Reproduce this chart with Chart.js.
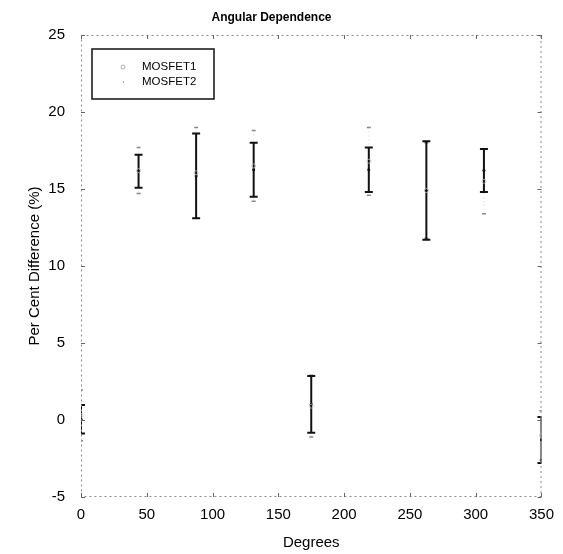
<!DOCTYPE html>
<html>
<head>
<meta charset="utf-8">
<script src="https://cdn.jsdelivr.net/npm/chart.js@4.4.1/dist/chart.umd.min.js"></script>
<style>
  html, body { margin: 0; padding: 0; background: #fff; }
  #wrap { width: 563px; height: 554px; }
</style>
</head>
<body>
<div id="wrap"><canvas id="chart" width="563" height="554"></canvas></div>
<script>
// angles (degrees) where both devices were measured
const angles = [0, 43.75, 87.5, 131.25, 175, 218.75, 262.5, 306.25, 350];

// MOSFET1 -- faint in the scan, only the cap ends really show
const mosfet1Mean = [0.3, 16.2, 16.05, 16.5, 0.9, 16.8, 14.9, 15.5, -1.0];
const mosfet1Err = [1.65, 1.5, 2.95, 2.3, 2.0, 2.2, 3.1, 2.1, 1.6];

// MOSFET2 -- the dark error bars
const mosfet2Mean = [0.05, 16.15, 15.85, 16.25, 1.02, 16.25, 14.9, 16.2, -1.3];
const mosfet2Err = [0.92, 1.07, 2.75, 1.75, 1.84, 1.45, 3.2, 1.4, 1.5];

const xTicks = [0, 50, 100, 150, 200, 250, 300, 350];
const yTicks = [-5, 0, 5, 10, 15, 20, 25];

Chart.defaults.font.family = "'Liberation Sans', Arial, sans-serif";
Chart.defaults.color = '#000';

const toPoints = (means) => angles.map((a, i) => ({ x: a, y: means[i] }));

const errorBarPlugin = {
  id: 'errorBars',
  beforeDatasetsDraw(chart) {
    const { ctx, chartArea, scales: { x, y } } = chart;
    ctx.save();
    ctx.beginPath();
    ctx.rect(chartArea.left, chartArea.top, chartArea.right - chartArea.left, chartArea.bottom - chartArea.top);
    ctx.clip();
    for (const ds of chart.data.datasets) {
      const st = ds.errorStyle;
      ds.data.forEach((pt, i) => {
        const px = x.getPixelForValue(pt.x);
        const top = y.getPixelForValue(pt.y + ds.errors[i]);
        const bot = y.getPixelForValue(pt.y - ds.errors[i]);
        ctx.strokeStyle = st.color;
        ctx.lineWidth = st.width;
        ctx.setLineDash(st.dash);
        ctx.beginPath();
        ctx.moveTo(px, top);
        ctx.lineTo(px, bot);
        ctx.stroke();
        ctx.setLineDash([]);
        ctx.strokeStyle = st.capColor;
        ctx.lineWidth = st.capWidth;
        ctx.beginPath();
        ctx.moveTo(px - st.cap, top); ctx.lineTo(px + st.cap, top);
        ctx.moveTo(px - st.cap, bot); ctx.lineTo(px + st.cap, bot);
        ctx.stroke();
      });
    }
    ctx.restore();
  },
  afterDraw(chart) {
    const { ctx, chartArea: ca, scales: { x, y } } = chart;
    ctx.save();

    // faint scanned axes box with inward ticks
    ctx.strokeStyle = '#8a8a8a';
    ctx.lineWidth = 1;
    ctx.setLineDash([2, 3]);
    ctx.strokeRect(ca.left + 0.5, ca.top + 0.5, ca.right - ca.left - 1, ca.bottom - ca.top - 1);
    ctx.setLineDash([]);
    ctx.strokeStyle = '#666';
    ctx.beginPath();
    for (const v of xTicks) {
      const px = Math.round(x.getPixelForValue(v)) + 0.5;
      ctx.moveTo(px, ca.bottom); ctx.lineTo(px, ca.bottom - 4);
      ctx.moveTo(px, ca.top); ctx.lineTo(px, ca.top + 4);
    }
    for (const v of yTicks) {
      const py = Math.round(y.getPixelForValue(v)) + 0.5;
      ctx.moveTo(ca.left, py); ctx.lineTo(ca.left + 4, py);
      ctx.moveTo(ca.right, py); ctx.lineTo(ca.right - 4, py);
    }
    ctx.stroke();

    // legend box, top-left inside the axes
    const lx = ca.left + 11, ly = ca.top + 14, lw = 122, lh = 50;
    ctx.fillStyle = '#fff';
    ctx.fillRect(lx, ly, lw, lh);
    ctx.strokeStyle = '#111';
    ctx.lineWidth = 1.5;
    ctx.strokeRect(lx, ly, lw, lh);
    ctx.font = "11.5px 'Liberation Sans', Arial, sans-serif";
    ctx.fillStyle = '#000';
    ctx.textBaseline = 'middle';
    const rows = [ly + 18, ly + 33];
    chart.data.datasets.forEach((ds, i) => {
      ctx.fillText(ds.label, lx + 50, rows[i]);
      ctx.beginPath();
      if (i === 0) {
        ctx.strokeStyle = '#999';
        ctx.lineWidth = 0.8;
        ctx.arc(lx + 31, rows[i], 2, 0, Math.PI * 2);
        ctx.stroke();
      } else {
        ctx.fillStyle = '#aaa';
        ctx.fillRect(lx + 31, rows[i] - 1, 1, 2);
        ctx.fillStyle = '#000';
      }
    });
    ctx.restore();
  },
};

new Chart(document.getElementById('chart'), {
  type: 'scatter',
  data: {
    datasets: [
      {
        label: 'MOSFET1',
        data: toPoints(mosfet1Mean),
        errors: mosfet1Err,
        errorStyle: { color: '#d4d4d4', width: 1, dash: [1, 3], capColor: '#888', capWidth: 1.5, cap: 2 },
        pointStyle: 'circle',
        pointRadius: 2,
        borderColor: '#bbb',
        borderWidth: 0.8,
        backgroundColor: 'transparent',
      },
      {
        label: 'MOSFET2',
        data: toPoints(mosfet2Mean),
        errors: mosfet2Err,
        errorStyle: { color: '#111', width: 2, dash: [], capColor: '#111', capWidth: 2, cap: 4 },
        pointStyle: 'circle',
        pointRadius: 1.5,
        borderWidth: 0,
        backgroundColor: '#111',
      },
    ],
  },
  options: {
    responsive: false,
    animation: false,
    events: [],
    layout: { padding: { left: 0, right: 20, top: 0, bottom: 0 } },
    plugins: {
      legend: { display: false },
      tooltip: { enabled: false },
      title: {
        display: true,
        text: 'Angular Dependence',
        font: { size: 12, weight: 'bold' },
        color: '#000',
        padding: { top: 10, bottom: 10.6 },
      },
    },
    scales: {
      x: {
        type: 'linear',
        min: 0,
        max: 350,
        afterBuildTicks: (scale) => { scale.ticks = xTicks.map(v => ({ value: v })); },
        afterFit: (scale) => { scale.height = 57; },
        grid: { display: false, drawTicks: false },
        border: { display: false },
        ticks: { font: { size: 15 }, padding: 9, color: '#000' },
        title: { display: true, text: 'Degrees', font: { size: 15 }, padding: { top: 0, bottom: 2 }, color: '#000' },
      },
      y: {
        type: 'linear',
        min: -5,
        max: 25,
        afterBuildTicks: (scale) => { scale.ticks = yTicks.map(v => ({ value: v })); },
        afterFit: (scale) => { scale.width = 81; },
        grid: { display: false, drawTicks: false },
        border: { display: false },
        ticks: { font: { size: 15 }, padding: 16, color: '#000' },
        title: { display: true, text: 'Per Cent Difference (%)', font: { size: 15 }, padding: { top: 26, bottom: 0 }, color: '#000' },
      },
    },
  },
  plugins: [errorBarPlugin],
});
</script>
</body>
</html>
